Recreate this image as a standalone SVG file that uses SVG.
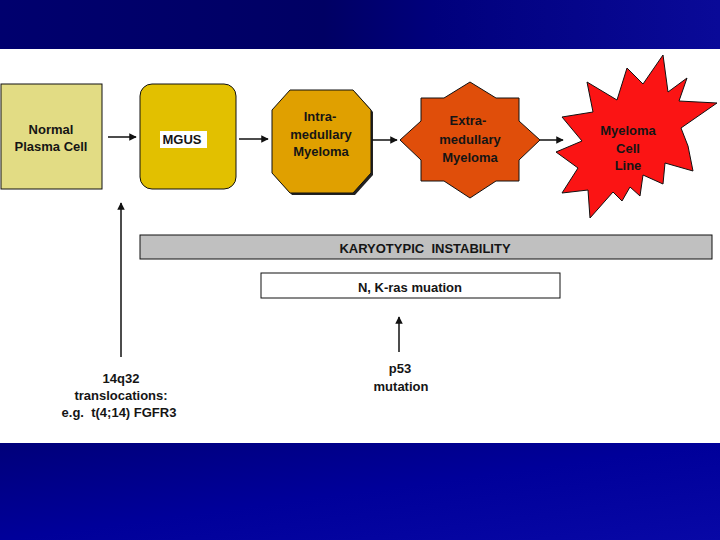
<svg xmlns="http://www.w3.org/2000/svg" width="720" height="540" viewBox="0 0 720 540">
<defs>
<linearGradient id="topband" x1="0" y1="0" x2="1" y2="0">
<stop offset="0" stop-color="#00006e"/>
<stop offset="0.45" stop-color="#000064"/>
<stop offset="0.6" stop-color="#00007c"/>
<stop offset="1" stop-color="#0a0a98"/>
</linearGradient>
<linearGradient id="botband" x1="0" y1="0" x2="1" y2="1">
<stop offset="0" stop-color="#00007a"/>
<stop offset="0.5" stop-color="#00009a"/>
<stop offset="1" stop-color="#0808a6"/>
</linearGradient>
<marker id="arr" viewBox="0 0 10 10" refX="9" refY="5" markerWidth="5" markerHeight="5" orient="auto" markerUnits="strokeWidth">
<path d="M0,0 L10,5 L0,10 z" fill="#111"/>
</marker>
</defs>
<style>
.lbl{font-family:"Liberation Sans",Arial,sans-serif;font-weight:bold;font-size:13px;fill:#151515;text-anchor:middle}
.shape{stroke:#111;stroke-width:1}
.conn{stroke:#111;stroke-width:1.5;fill:none}
</style>
<rect x="0" y="0" width="720" height="540" fill="#ffffff"/>
<rect x="0" y="0" width="720" height="49" fill="url(#topband)"/>
<rect x="0" y="443" width="720" height="97" fill="url(#botband)"/>

<g id="normal">
<rect class="shape" x="1" y="84" width="101" height="105" fill="#e2dc84"/>
<text class="lbl" x="51" y="134">Normal</text>
<text class="lbl" x="51" y="151">Plasma Cell</text>
</g>

<g id="mgus">
<rect class="shape" x="140" y="84" width="96" height="105" rx="12" ry="12" fill="#e2c000"/>
<rect x="160" y="131" width="47" height="17" fill="#ffffff"/>
<text class="lbl" x="182" y="144">MGUS</text>
</g>

<g id="intra">
<polygon points="292,92 355,92 373,112 373,175 355,195 292,195 274,175 274,112" fill="#222"/>
<polygon class="shape" points="290,90 353,90 371,110 371,173 353,193 290,193 272,173 272,110" fill="#e0a000"/>
<text class="lbl" x="320" y="121">Intra-</text>
<text class="lbl" x="321" y="139">medullary</text>
<text class="lbl" x="321" y="156">Myeloma</text>
</g>

<g id="extra">
<polygon class="shape" points="400,140 421,121 421,98 444,98 470,82 496,98 519,98 519,121 540,140 519,160 519,181 496,181 470,198 444,181 421,181 421,160" fill="#e04e0a"/>
<text class="lbl" x="468" y="125">Extra-</text>
<text class="lbl" x="470" y="144">medullary</text>
<text class="lbl" x="470" y="162">Myeloma</text>
</g>

<g id="cellline">
<polygon class="shape" points="663,55 668,92 687,78 679,101 717,103 681,128 688,146 693,171 665,163 663,184 643,175 640,196 630,187 622,201 613,192 590,218 588,190 562,193 578,168 556,152 582,141 562,117 593,112 587,82 617,100 627,68 643,84" fill="#fb1414"/>
<text class="lbl" x="628" y="135">Myeloma</text>
<text class="lbl" x="628" y="153">Cell</text>
<text class="lbl" x="628" y="170">Line</text>
</g>

<g id="karyo">
<rect class="shape" x="140" y="235" width="572" height="24" fill="#c0c0c0"/>
<text class="lbl" x="425" y="253" style="white-space:pre">KARYOTYPIC  INSTABILITY</text>
</g>

<g id="ras">
<rect class="shape" x="261" y="273" width="299" height="25" fill="#ffffff" stroke-width="1.5"/>
<text class="lbl" x="410" y="292">N, K-ras muation</text>
</g>

<g id="trans">
<text class="lbl" x="121" y="383">14q32</text>
<text class="lbl" x="121" y="400">translocations:</text>
<text class="lbl" x="119" y="417" style="white-space:pre">e.g.  t(4;14) FGFR3</text>
</g>

<g id="p53">
<text class="lbl" x="400" y="373">p53</text>
<text class="lbl" x="401" y="391">mutation</text>
</g>

<g id="connectors">
<line class="conn" x1="108" y1="137" x2="136" y2="137" marker-end="url(#arr)"/>
<line class="conn" x1="239" y1="139" x2="268" y2="139" marker-end="url(#arr)"/>
<line class="conn" x1="372" y1="140" x2="397" y2="140" marker-end="url(#arr)"/>
<line class="conn" x1="540" y1="140" x2="563" y2="140" marker-end="url(#arr)"/>
<line class="conn" x1="121" y1="357" x2="121" y2="203" marker-end="url(#arr)"/>
<line class="conn" x1="399" y1="352" x2="399" y2="317" marker-end="url(#arr)"/>
</g>
</svg>
